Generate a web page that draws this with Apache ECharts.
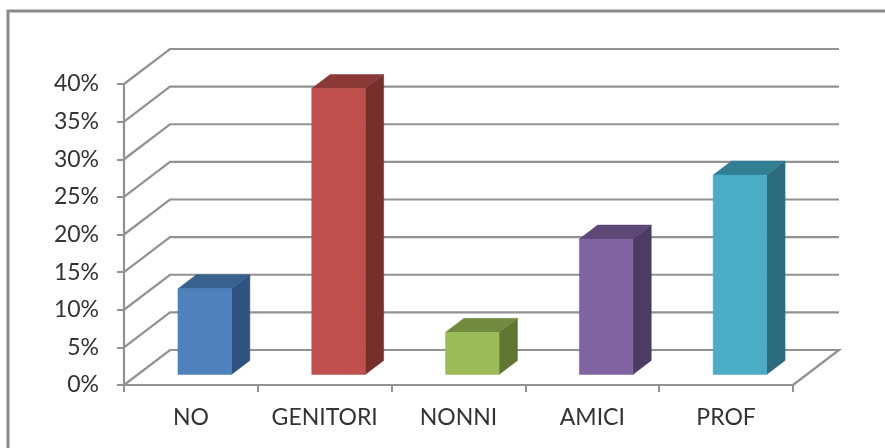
<!DOCTYPE html>
<html>
<head>
<meta charset="utf-8">
<style>html,body{margin:0;padding:0;background:#fff}#chart{width:885px;height:448px}</style>
<script src="https://cdn.jsdelivr.net/npm/echarts@6/dist/echarts.min.js"></script>
</head>
<body>
<div id="chart"></div>
<script>
// Share of answers per category, in percent
const categories = ['NO', 'GENITORI', 'NONNI', 'AMICI', 'PROF'];
const shares = [11.4, 38, 5.6, 18, 26.5];
const gridValues = [0, 5, 10, 15, 20, 25, 30, 35, 40];
const frontColors = ['#4F81BD', '#C0504D', '#9BBB59', '#8064A2', '#4BACC6'];
const topColors = ['#38618F', '#8C3A38', '#718A3F', '#5C4776', '#327F94'];
const sideColors = ['#2F5380', '#772F2D', '#5F7530', '#4D3B63', '#2C6B7C'];

// Oblique projection: full depth of the plot box in pixels
const DEPTH_X = 46;
const DEPTH_Y = 35;
const BAR_NEAR = 0.3;
const BAR_FAR = 0.7;
const BAR_WIDTH = 0.4;
const AXIS_GREY = '#929292';
const TEXT_FONT = 'Lato';
const TEXT_COLOR = '#333333';

const chart = echarts.init(document.getElementById('chart'));

function renderWall(params, api) {
  const value = api.value(0);
  const rect = params.coordSys;
  const y = api.coord([0, value])[1];
  const left = rect.x;
  const right = rect.x + rect.width;
  const points = [[left, y], [left + DEPTH_X, y - DEPTH_Y], [right + DEPTH_X, y - DEPTH_Y]];
  if (value === 0) points.push([right, y]);
  return {
    type: 'polyline',
    shape: { points },
    style: { stroke: AXIS_GREY, lineWidth: 2.2, fill: null }
  };
}

function renderBar(params, api) {
  const i = api.value(0);
  const top = api.coord([i, api.value(1)]);
  const base = api.coord([i, 0]);
  const band = api.size([1, 0])[0];
  const w = band * BAR_WIDTH;
  const x0 = top[0] - w / 2 + DEPTH_X * BAR_NEAR;
  const x1 = x0 + w;
  const yTop = top[1] - DEPTH_Y * BAR_NEAR;
  const yBase = base[1] - DEPTH_Y * BAR_NEAR;
  const dx = DEPTH_X * (BAR_FAR - BAR_NEAR);
  const dy = DEPTH_Y * (BAR_FAR - BAR_NEAR);
  const face = (points, fill) => ({
    type: 'polygon',
    shape: { points },
    style: { fill, stroke: fill, lineWidth: 0.5 }
  });
  return {
    type: 'group',
    children: [
      face([[x1, yTop], [x1 + dx, yTop - dy], [x1 + dx, yBase - dy], [x1, yBase]], sideColors[i]),
      face([[x0, yTop], [x0 + dx, yTop - dy], [x1 + dx, yTop - dy], [x1, yTop]], topColors[i]),
      face([[x0, yTop], [x1, yTop], [x1, yBase], [x0, yBase]], frontColors[i])
    ]
  };
}

chart.setOption({
  animation: false,
  backgroundColor: '#fff',
  graphic: [{
    type: 'rect',
    silent: true,
    shape: { x: 8, y: 11, width: 900, height: 460 },
    style: { fill: null, stroke: '#8A8A8A', lineWidth: 3 }
  }],
  grid: { left: 124, right: 92, top: 84, bottom: 63 },
  xAxis: {
    type: 'category',
    data: categories,
    axisLine: { lineStyle: { color: AXIS_GREY, width: 2.2 } },
    axisTick: { show: true, length: 7, lineStyle: { color: AXIS_GREY, width: 2 } },
    axisLabel: { color: TEXT_COLOR, fontFamily: TEXT_FONT, fontSize: 23, margin: 21, interval: 0, hideOverlap: false },
    splitLine: { show: false }
  },
  yAxis: {
    type: 'value',
    min: 0,
    max: 40,
    interval: 5,
    axisLine: { show: true, lineStyle: { color: AXIS_GREY, width: 2.2 } },
    axisTick: { show: true, length: 7, lineStyle: { color: AXIS_GREY, width: 2 } },
    axisLabel: { color: TEXT_COLOR, fontFamily: TEXT_FONT, fontSize: 23, margin: 25, formatter: '{value}%' },
    splitLine: { show: false }
  },
  series: [
    {
      type: 'custom',
      name: 'wall',
      coordinateSystem: 'cartesian2d',
      clip: false,
      silent: true,
      encode: { y: 0 },
      data: gridValues.map(v => [v]),
      renderItem: renderWall,
      z: 1
    },
    {
      type: 'custom',
      name: 'shares',
      coordinateSystem: 'cartesian2d',
      clip: false,
      encode: { x: 0, y: 1 },
      data: shares.map((v, i) => [i, v]),
      renderItem: renderBar,
      z: 2
    }
  ]
});
</script>
</body>
</html>
